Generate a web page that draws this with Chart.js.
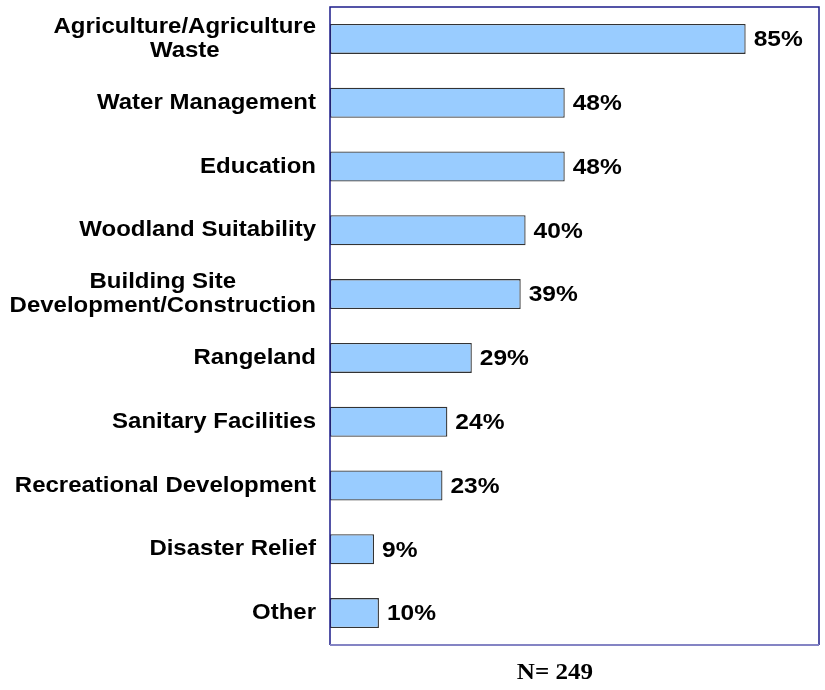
<!DOCTYPE html>
<html>
<head>
<meta charset="utf-8">
<script src="https://cdn.jsdelivr.net/npm/chart.js@4"></script>
<style>
  html, body { margin: 0; padding: 0; background: #fff; }
  #wrap { width: 825px; height: 690px; }
</style>
</head>
<body>
<div id="wrap"><canvas id="chart"></canvas></div>
<script>
let categories = [
    ["Agriculture/Agriculture", "Waste"],
    ["Water Management"],
    ["Education"],
    ["Woodland Suitability"],
    ["Building Site", "Development/Construction"],
    ["Rangeland"],
    ["Sanitary Facilities"],
    ["Recreational Development"],
    ["Disaster Relief"],
    ["Other"]
];
let values = [85, 48, 48, 40, 39, 29, 24, 23, 9, 10];
let footnote = "N= 249";

const sansFont = "'Liberation Sans', Arial, sans-serif";
const serifFont = "'Liberation Serif', 'Times New Roman', serif";
// text is set slightly wide
const stretch = 1.09;

// draw a string at (x, y) squeezed wider by `stretch`
function wideText(ctx, text, x, y) {
    ctx.save();
    ctx.translate(x, y);
    ctx.scale(stretch, 1);
    ctx.fillText(text, 0, 0);
    ctx.restore();
}

// frame, category labels, value labels and the N note are drawn by hand
const decorations = {
    id: 'decorations',
    afterDraw(chart) {
        let ctx = chart.ctx;
        let area = chart.chartArea;
        let yScale = chart.scales.y;
        let meta = chart.getDatasetMeta(0);

        ctx.save();
        // plot frame
        ctx.lineWidth = 1.5;
        ctx.strokeStyle = '#1c1c8a';
        ctx.beginPath();
        ctx.moveTo(area.left, area.bottom);
        ctx.lineTo(area.left, area.top);
        ctx.lineTo(area.right, area.top);
        ctx.lineTo(area.right, area.bottom);
        ctx.stroke();
        ctx.lineWidth = 2;
        ctx.strokeStyle = '#8484c4';
        ctx.beginPath();
        ctx.moveTo(area.left, area.bottom);
        ctx.lineTo(area.right, area.bottom);
        ctx.stroke();

        // category labels, right aligned, multi-line centered
        ctx.fillStyle = '#000';
        ctx.font = 'bold 22px ' + sansFont;
        ctx.textAlign = 'center';
        ctx.textBaseline = 'middle';
        let lineH = 24;
        categories.forEach((lines, i) => {
            let y = yScale.getPixelForValue(i);
            let widest = Math.max(...lines.map(l => ctx.measureText(l).width)) * stretch;
            lines.forEach((line, j) => {
                let dy = (j - (lines.length - 1) / 2) * lineH;
                wideText(ctx, line, area.left - 14 - widest / 2, y + dy);
            });
        });

        // value labels
        ctx.font = 'bold 22.5px ' + sansFont;
        ctx.textAlign = 'left';
        meta.data.forEach((bar, i) => {
            wideText(ctx, values[i] + '%', bar.x + 8, bar.y + 1);
        });

        // sample size note
        ctx.font = 'bold 23px ' + serifFont;
        ctx.textAlign = 'center';
        ctx.textBaseline = 'alphabetic';
        wideText(ctx, footnote, 555, 679);
        ctx.restore();
    }
};

let ctx = document.getElementById('chart').getContext('2d');

let chart = new Chart(ctx, {
    type: 'bar',
    data: {
        labels: categories.map(c => c.join(' ')),
        datasets: [{
            data: values,
            backgroundColor: '#99ccff',
            borderColor: '#333333',
            borderWidth: 1.3,
            borderSkipped: false,
            categoryPercentage: 1,
            barPercentage: 0.47
        }]
    },
    options: {
        indexAxis: 'y',
        responsive: true,
        maintainAspectRatio: false,
        animation: false,
        layout: {
            padding: { left: 0, right: 6, top: 7, bottom: 45 }
        },
        plugins: {
            legend: { display: false },
            tooltip: { enabled: false },
            title: { display: false }
        },
        scales: {
            x: {
                display: false,
                min: 0,
                max: 100
            },
            y: {
                grid: { display: false },
                border: { display: false },
                ticks: { display: false },
                afterFit: (scale) => { scale.width = 330; }
            }
        }
    },
    plugins: [decorations]
});
</script>
</body>
</html>
